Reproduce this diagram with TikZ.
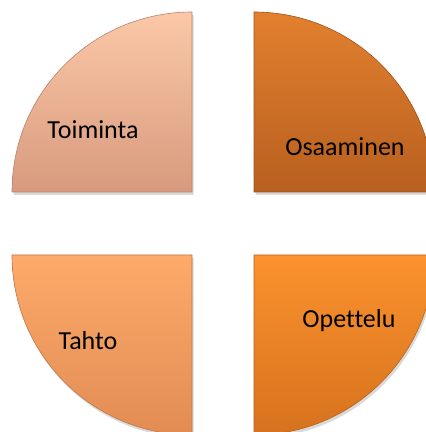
\documentclass[tikz,border=0pt]{standalone}
\usepackage{fontspec}
\setmainfont{Carlito}[Ligatures=NoCommon]
\usetikzlibrary{shadows}

\definecolor{peachHi}{RGB}{251,200,168}
\definecolor{peachLo}{RGB}{216,154,126}
\definecolor{rustHi}{RGB}{226,128,46}
\definecolor{rustLo}{RGB}{184,96,32}
\definecolor{apriHi}{RGB}{253,170,106}
\definecolor{apriLo}{RGB}{226,140,84}
\definecolor{orngHi}{RGB}{251,146,46}
\definecolor{orngLo}{RGB}{214,114,30}

\begin{document}
\begin{tikzpicture}[x=1pt, y=1pt,
	quarter/.style={line width=0.6pt, drop shadow={opacity=0.3, shadow xshift=1.5pt, shadow yshift=-3pt}},
	label/.style={font=\fontsize{26}{31}\selectfont, text=black}]

	\useasboundingbox (0,0) rectangle (426,432);
	\clip (0,0) rectangle (426,432);

	% draw the four quarters
	\foreach \x/\y/\a/\hi/\lo in {192/240/180/peachHi/peachLo, 254/240/90/rustHi/rustLo,
		192/177/270/apriHi/apriLo, 254/177/0/orngHi/orngLo}
	{
		\path[quarter, top color=\hi, bottom color=\lo, draw=\lo!85!black]
			(\x,\y) -- ++(\a:180) arc[start angle=\a, delta angle=-90, radius=180] -- cycle;
	}

	% draw labels
	\node[label] (toiminta) at (93,302) {Toiminta};
	\node[label] (osaaminen) at (345,285) {Osaaminen};
	\node[label] (tahto) at (88,91) {Tahto};
	\node[label] (opettelu) at (349,111) {Opettelu};

\end{tikzpicture}
\end{document}
